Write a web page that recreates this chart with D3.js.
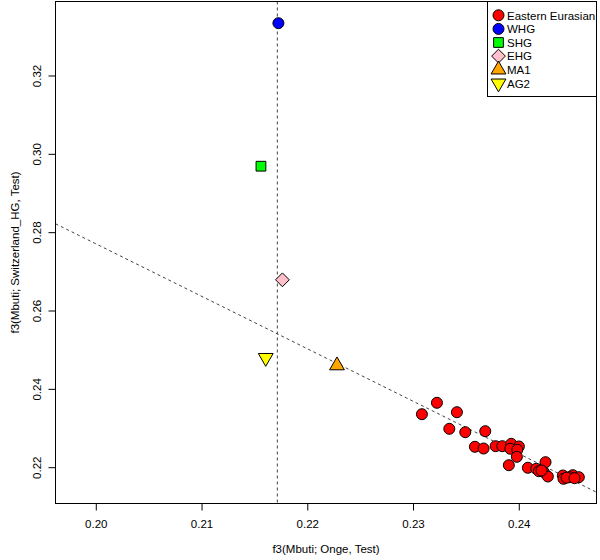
<!DOCTYPE html>
<html>
<head>
<meta charset="utf-8">
<script src="https://cdn.jsdelivr.net/npm/d3@7/dist/d3.min.js"></script>
<style>
	body{ margin: 0; background: #fff; }
	svg{ display: block; font-family: "Liberation Sans", Arial, Helvetica, sans-serif; }
</style>
</head>
<body>
<svg id="chart" width="600" height="560"></svg>
<script>
// eastern eurasian populations
var eastX = [0.23084, 0.23226, 0.23415, 0.23343, 0.23494, 0.23683, 0.23585, 0.23667, 0.23781, 0.23844,
	0.23929, 0.24001, 0.23920, 0.23986, 0.23982, 0.23906, 0.24086, 0.24165, 0.24253, 0.24190,
	0.24237, 0.24275, 0.24417, 0.24511, 0.24568, 0.24423, 0.24480, 0.24215, 0.24452, 0.24527];
var eastY = [0.23353, 0.23644, 0.23404, 0.22980, 0.22894, 0.22919, 0.22521, 0.22477, 0.22536, 0.22536,
	0.22597, 0.22529, 0.22470, 0.22444, 0.22265, 0.22051, 0.21985, 0.21959, 0.22128, 0.21898,
	0.21873, 0.21763, 0.21788, 0.21796, 0.21745, 0.21704, 0.21745, 0.21915, 0.21732, 0.21719];

// ancient samples
var ancientNames = ["WHG", "SHG", "EHG", "MA1", "AG2"];
var ancientX = [0.21727, 0.21562, 0.21765, 0.22281, 0.21607];
var ancientY = [0.33335, 0.29684, 0.26784, 0.24596, 0.24793];

var legendNames = ["Eastern Eurasian", "WHG", "SHG", "EHG", "MA1", "AG2"];
var legendShapes = ["circle", "circle", "square", "diamond", "up", "down"];
var legendColors = ["#ff0000", "#0000ff", "#00ff00", "#ffc0cb", "#ffa500", "#ffff00"];

var xTicks = [0.20, 0.21, 0.22, 0.23, 0.24];
var yTicks = [0.22, 0.24, 0.26, 0.28, 0.30, 0.32];
var xLim = [0.19619, 0.24735];
var yLim = [0.21073, 0.33889];

// reference lines
var vLineX = 0.21717;
var ablineA = 0.54498;
var ablineB = -1.3397;

var plotL = 55.5, plotR = 596.5, plotT = 1.5, plotB = 503.5;
var R = 5.5;
var fontSize = 11.5;

var svg = d3.select("#chart");

var x = d3.scaleLinear().domain(xLim).range([plotL, plotR]);
var y = d3.scaleLinear().domain(yLim).range([plotB, plotT]);

// R style pch shapes (21-25)
function shapePath(shape, r){
	if(shape === "circle"){
		return "M" + r + ",0A" + r + "," + r + " 0 1,1 " + (-r) + ",0A" + r + "," + r + " 0 1,1 " + r + ",0Z";
	}
	if(shape === "square"){
		var s = r * 0.88622;
		return "M" + (-s) + "," + (-s) + "H" + s + "V" + s + "H" + (-s) + "Z";
	}
	if(shape === "diamond"){
		var dm = r * 1.25331;
		return "M0," + (-dm) + "L" + dm + ",0L0," + dm + "L" + (-dm) + ",0Z";
	}
	var t0 = r * 1.5551, t1 = r * 1.3468, t2 = r * 0.7776;
	if(shape === "up"){
		return "M0," + (-t0) + "L" + t1 + "," + t2 + "L" + (-t1) + "," + t2 + "Z";
	}
	return "M0," + t0 + "L" + t1 + "," + (-t2) + "L" + (-t1) + "," + (-t2) + "Z";
}

svg.append("clipPath")
	.attr("id", "plotclip")
	.append("rect")
		.attr("x", plotL)
		.attr("y", plotT)
		.attr("width", plotR - plotL)
		.attr("height", plotB - plotT);

var lines = svg.append("g").attr("clip-path", "url(#plotclip)");

lines.append("line")
	.attr("x1", x(vLineX))
	.attr("x2", x(vLineX))
	.attr("y1", plotT)
	.attr("y2", plotB)
	.attr("stroke", "#444")
	.attr("stroke-width", 1)
	.attr("stroke-dasharray", "3,3");

lines.append("line")
	.attr("x1", x(xLim[0]))
	.attr("y1", y(ablineA + ablineB * xLim[0]))
	.attr("x2", x(xLim[1]))
	.attr("y2", y(ablineA + ablineB * xLim[1]))
	.attr("stroke", "#444")
	.attr("stroke-width", 1)
	.attr("stroke-dasharray", "3,3");

var eastData = eastX.map(function(d, i){
	return {x: d, y: eastY[i]};
});

svg.append("g")
	.selectAll("path")
	.data(eastData)
	.enter()
	.append("path")
		.attr("d", shapePath("circle", R))
		.attr("transform", function(d){
			return "translate(" + x(d.x) + "," + y(d.y) + ")";
		})
		.attr("fill", legendColors[0])
		.attr("stroke", "#000")
		.attr("stroke-width", 1);

var ancientData = ancientNames.map(function(d, i){
	var k = legendNames.indexOf(d);
	return {name: d, x: ancientX[i], y: ancientY[i], shape: legendShapes[k], color: legendColors[k]};
});

svg.append("g")
	.selectAll("path")
	.data(ancientData)
	.enter()
	.append("path")
		.attr("d", function(d){
			return shapePath(d.shape, R);
		})
		.attr("transform", function(d){
			return "translate(" + x(d.x) + "," + y(d.y) + ")";
		})
		.attr("fill", function(d){
			return d.color;
		})
		.attr("stroke", "#000")
		.attr("stroke-width", 1);

// axes
var xAxis = svg.append("g")
	.attr("transform", "translate(0," + plotB + ")")
	.call(d3.axisBottom(x).tickValues(xTicks).tickSize(7).tickPadding(9).tickFormat(d3.format(".2f")));

var yAxis = svg.append("g")
	.attr("transform", "translate(" + plotL + ",0)")
	.call(d3.axisLeft(y).tickValues(yTicks).tickSize(7).tickFormat(d3.format(".2f")));

xAxis.select(".domain").remove();
yAxis.select(".domain").remove();

xAxis.selectAll("text")
	.attr("font-size", fontSize)
	.attr("font-family", "Liberation Sans, Arial, sans-serif")
	.attr("fill", "#000");

yAxis.selectAll("text")
	.attr("font-size", fontSize)
	.attr("font-family", "Liberation Sans, Arial, sans-serif")
	.attr("fill", "#000")
	.attr("text-anchor", "middle")
	.attr("dy", 0)
	.attr("x", 0)
	.attr("transform", "translate(-15,0) rotate(-90)");

svg.selectAll(".tick line").attr("stroke", "#000");

svg.append("rect")
	.attr("x", plotL)
	.attr("y", plotT)
	.attr("width", plotR - plotL)
	.attr("height", plotB - plotT)
	.attr("fill", "none")
	.attr("stroke", "#000")
	.attr("stroke-width", 1);

svg.append("text")
	.attr("x", (plotL + plotR) / 2)
	.attr("y", 553)
	.attr("text-anchor", "middle")
	.attr("font-size", fontSize)
	.text("f3(Mbuti; Onge, Test)");

svg.append("text")
	.attr("transform", "translate(19," + ((plotT + plotB) / 2) + ") rotate(-90)")
	.attr("text-anchor", "middle")
	.attr("font-size", fontSize)
	.text("f3(Mbuti; Switzerland_HG, Test)");

// legend
var legend = svg.append("g");

legend.append("rect")
	.attr("x", 487.5)
	.attr("y", plotT)
	.attr("width", plotR - 487.5)
	.attr("height", 95)
	.attr("fill", "#fff")
	.attr("stroke", "#000")
	.attr("stroke-width", 1);

var items = legend.selectAll(".item")
	.data(legendNames)
	.enter()
	.append("g")
		.attr("class", "item")
		.attr("transform", function(d, i){
			return "translate(498.5," + (15.3 + i * 13.6) + ")";
		});

items.append("path")
	.attr("d", function(d, i){
		return shapePath(legendShapes[i], R);
	})
	.attr("fill", function(d, i){
		return legendColors[i];
	})
	.attr("stroke", "#000")
	.attr("stroke-width", 1);

items.append("text")
	.attr("x", 8.5)
	.attr("y", 4.2)
	.attr("font-size", fontSize)
	.text(function(d){
		return d;
	});
</script>
</body>
</html>
